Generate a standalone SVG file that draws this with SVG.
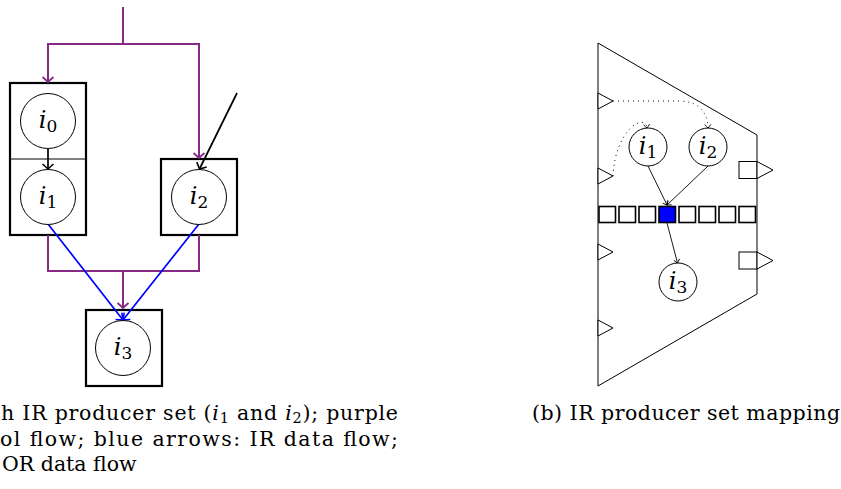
<svg xmlns="http://www.w3.org/2000/svg" width="841" height="489" viewBox="0 0 841 489">
<style>
.box{fill:none;stroke:#000;stroke-width:2.2}
.thin{fill:none;stroke:#000;stroke-width:1}
.circ{fill:#fff;stroke:#000;stroke-width:1}
.lbl{font-family:"DejaVu Serif","Liberation Serif",serif;font-size:24px;text-anchor:middle}
.it{font-style:italic}
.sub{font-size:17px}
.cap{font-family:"DejaVu Serif","Liberation Serif",serif;font-size:20.5px}
.csub{font-size:14.5px}
.pur{fill:none;stroke:#862a86;stroke-width:2}
.blu{fill:none;stroke:#0000ff;stroke-width:1.7}
.blk{fill:none;stroke:#000;stroke-width:1.7}
.rl{fill:none;stroke:#000;stroke-width:0.9}
.dot{fill:none;stroke:#000;stroke-width:1;stroke-dasharray:1 4}
.port{fill:#fff;stroke:#000;stroke-width:1}
.reg{fill:#fff;stroke:#000;stroke-width:1.6}
</style>
<defs>
<marker id="mp" markerUnits="userSpaceOnUse" markerWidth="14" markerHeight="14" refX="7" refY="7" orient="auto" overflow="visible">
<path d="M2,1.5 Q5.5,5.5 7,7 Q5.5,8.5 2,12.5" fill="none" stroke="#862a86" stroke-width="1.8"/>
</marker>
<marker id="mb" markerUnits="userSpaceOnUse" markerWidth="14" markerHeight="14" refX="7" refY="7" orient="auto" overflow="visible">
<path d="M2,1.5 Q5.5,5.5 7,7 Q5.5,8.5 2,12.5" fill="none" stroke="#0000ff" stroke-width="1.6"/>
</marker>
<marker id="mk" markerUnits="userSpaceOnUse" markerWidth="14" markerHeight="14" refX="7" refY="7" orient="auto" overflow="visible">
<path d="M2,1.5 Q5.5,5.5 7,7 Q5.5,8.5 2,12.5" fill="none" stroke="#000" stroke-width="1.6"/>
</marker>
<marker id="ms" markerUnits="userSpaceOnUse" markerWidth="10" markerHeight="10" refX="5" refY="5" orient="auto" overflow="visible">
<path d="M1.5,2 Q4,4 5,5 Q4,6 1.5,8" fill="none" stroke="#000" stroke-width="0.9"/>
</marker>
</defs>

<!-- left diagram -->
<g id="box-i0-i1">
<rect class="box" x="10" y="83" width="76" height="152"/>
<line class="thin" x1="10" y1="159" x2="86" y2="159"/>
</g>
<g id="box-i2"><rect class="box" x="161" y="159" width="76" height="76"/></g>
<g id="box-i3"><rect class="box" x="86" y="310" width="76" height="76"/></g>

<g id="connectors">
<path class="pur" d="M123,7 V44"/>
<path class="pur" d="M123,44 H48 V82" marker-end="url(#mp)"/>
<path class="pur" d="M123,44 H199 V158" marker-end="url(#mp)"/>
<path class="pur" d="M48,235 V271 H199 V235"/>
<path class="pur" d="M123,271 V308" marker-end="url(#mp)"/>
<path class="blk" d="M48,148.5 V169" marker-end="url(#mk)"/>
<path class="blk" d="M237,93 L199.5,169" marker-end="url(#mk)"/>
<path class="blu" d="M48,224 L123,320" marker-end="url(#mb)"/>
<path class="blu" d="M199,224 L123,320" marker-end="url(#mb)"/>
<path class="rl" d="M648,166 L667,205" marker-end="url(#ms)"/>
<path class="rl" d="M708,166 L667,205" marker-end="url(#ms)"/>
<path class="rl" d="M667,223 L677.5,263" marker-end="url(#ms)"/>
<path class="dot" d="M613,101 L680,101 Q707,102 708,128" marker-end="url(#ms)"/>
<path class="dot" d="M613,176 C615,130 645,112 647,128" marker-end="url(#ms)"/>
</g>

<g id="i0"><circle class="circ" cx="48" cy="121" r="27.5"/><text class="lbl" x="48" y="127.5"><tspan class="it">i</tspan><tspan class="sub" dy="4">0</tspan></text></g>
<g id="i1"><circle class="circ" cx="48" cy="197" r="27.5"/><text class="lbl" x="48" y="203.5"><tspan class="it">i</tspan><tspan class="sub" dy="4">1</tspan></text></g>
<g id="i2"><circle class="circ" cx="199" cy="197" r="27.5"/><text class="lbl" x="199" y="203.5"><tspan class="it">i</tspan><tspan class="sub" dy="4">2</tspan></text></g>
<g id="i3"><circle class="circ" cx="123" cy="348" r="27.5"/><text class="lbl" x="123" y="354.5"><tspan class="it">i</tspan><tspan class="sub" dy="4">3</tspan></text></g>

<!-- right diagram -->
<g id="fabric">
<polygon class="thin" points="598,43 757,135 757,294 598,386"/>
</g>
<g id="inputs">
<polygon class="port" points="598,93 613,101 598,109"/>
<polygon class="port" points="598,168 613,176 598,184"/>
<polygon class="port" points="598,244 613,252 598,260"/>
<polygon class="port" points="598,320 613,328 598,336"/>
</g>
<g id="outputs">
<rect class="port" x="739" y="161.5" width="18" height="17"/>
<polygon class="port" points="757,161.5 773,170 757,178.5"/>
<rect class="port" x="739" y="252" width="18" height="17"/>
<polygon class="port" points="757,252 773,260.5 757,269"/>
</g>
<g id="registers">
<rect class="reg" x="599" y="206.5" width="16.5" height="16"/>
<rect class="reg" x="619" y="206.5" width="16.5" height="16"/>
<rect class="reg" x="639" y="206.5" width="16.5" height="16"/>
<rect class="reg" x="659" y="206.5" width="16.5" height="16" style="fill:#0000ff"/>
<rect class="reg" x="679" y="206.5" width="16.5" height="16"/>
<rect class="reg" x="699" y="206.5" width="16.5" height="16"/>
<rect class="reg" x="719" y="206.5" width="16.5" height="16"/>
<rect class="reg" x="739" y="206.5" width="16.5" height="16"/>
</g>
<g id="r-i1"><circle class="circ" cx="648" cy="147" r="19"/><text class="lbl" x="648" y="153.5"><tspan class="it">i</tspan><tspan class="sub" dy="4">1</tspan></text></g>
<g id="r-i2"><circle class="circ" cx="708" cy="147" r="19"/><text class="lbl" x="708" y="153.5"><tspan class="it">i</tspan><tspan class="sub" dy="4">2</tspan></text></g>
<g id="r-i3"><circle class="circ" cx="678" cy="282" r="19"/><text class="lbl" x="678" y="288.5"><tspan class="it">i</tspan><tspan class="sub" dy="4">3</tspan></text></g>

<g id="captions">
<text class="cap" x="1" y="420" textLength="397" lengthAdjust="spacing">h IR producer set (<tspan class="it">i</tspan><tspan class="csub" dy="3">1</tspan><tspan dy="-3"> and </tspan><tspan class="it">i</tspan><tspan class="csub" dy="3">2</tspan><tspan dy="-3">); purple</tspan></text>
<text class="cap" x="0" y="445.5" textLength="398" lengthAdjust="spacing">ol flow; blue arrows: IR data flow;</text>
<text class="cap" x="2" y="471">OR data flow</text>
<text class="cap" x="532" y="420" textLength="308" lengthAdjust="spacing">(b) IR producer set mapping</text>
</g>
</svg>
